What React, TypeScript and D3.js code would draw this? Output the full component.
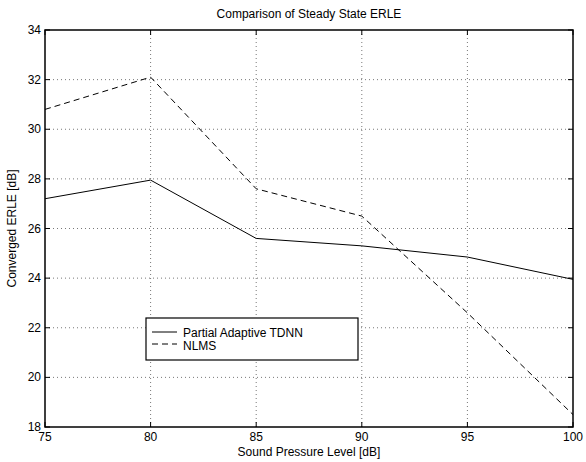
import React from 'react';
import * as d3 from 'd3';

const levels = [75, 80, 85, 90, 95, 100];
const tdnn = [27.2, 27.95, 25.6, 25.3, 24.85, 23.95];
const nlms = [30.8, 32.1, 27.6, 26.5, 22.6, 18.5];
const xTicks = [75, 80, 85, 90, 95, 100];
const yTicks = [18, 20, 22, 24, 26, 28, 30, 32, 34];
const seriesNames = ['Partial Adaptive TDNN', 'NLMS'];

const W = 586;
const H = 462;
const m = { left: 45, right: 13, top: 30, bottom: 35 };
const font = 'Liberation Sans, Arial, Helvetica, sans-serif';

const App = () => {
  const x = d3.scaleLinear().domain([75, 100]).range([m.left, W - m.right]);
  const y = d3.scaleLinear().domain([18, 34]).range([H - m.bottom, m.top]);

  const line = d3
    .line<number>()
    .x((_, i) => x(levels[i]))
    .y((d) => y(d));

  const x0 = x.range()[0];
  const x1 = x.range()[1];
  const y0 = y.range()[0];
  const y1 = y.range()[1];

  return (
    <svg width={W} height={H} style={{ position: 'absolute', left: 0, top: 0, background: '#fff' }} fontFamily={font}>
      <rect x={0} y={0} width={W} height={H} fill="#fff" />
      {/* grid */}
      {xTicks.slice(1, -1).map((t) => (
        <line key={'gx' + t} x1={x(t)} x2={x(t)} y1={y0} y2={y1} stroke="#555" strokeDasharray="1,3" strokeWidth={0.8} />
      ))}
      {yTicks.slice(1, -1).map((t) => (
        <line key={'gy' + t} x1={x0} x2={x1} y1={y(t)} y2={y(t)} stroke="#555" strokeDasharray="1,3" strokeWidth={0.8} />
      ))}
      {/* series */}
      <path d={line(tdnn) || ''} fill="none" stroke="#000" strokeWidth={1} />
      <path d={line(nlms) || ''} fill="none" stroke="#000" strokeWidth={1} strokeDasharray="6,4" />
      {/* frame */}
      <rect x={x0} y={y1} width={x1 - x0} height={y0 - y1} fill="none" stroke="#000" strokeWidth={1.5} />
      {xTicks.map((t) => (
        <g key={'tx' + t}>
          <line x1={x(t)} x2={x(t)} y1={y0} y2={y0 - 5} stroke="#000" />
          <line x1={x(t)} x2={x(t)} y1={y1} y2={y1 + 5} stroke="#000" />
          <text x={x(t)} y={y0 + 14} textAnchor="middle" fontSize={12}>
            {t}
          </text>
        </g>
      ))}
      {yTicks.map((t) => (
        <g key={'ty' + t}>
          <line x1={x0} x2={x0 + 5} y1={y(t)} y2={y(t)} stroke="#000" />
          <line x1={x1} x2={x1 - 5} y1={y(t)} y2={y(t)} stroke="#000" />
          <text x={x0 - 4} y={y(t) + 4} textAnchor="end" fontSize={12}>
            {t}
          </text>
        </g>
      ))}
      <text x={(x0 + x1) / 2} y={18} textAnchor="middle" fontSize={12}>
        Comparison of Steady State ERLE
      </text>
      <text x={(x0 + x1) / 2} y={456} textAnchor="middle" fontSize={12}>
        Sound Pressure Level [dB]
      </text>
      <text transform={`translate(16, ${(y0 + y1) / 2}) rotate(-90)`} textAnchor="middle" fontSize={12}>
        Converged ERLE [dB]
      </text>
      {/* legend */}
      <g>
        <rect x={146} y={318} width={212} height={42} fill="#fff" stroke="#000" strokeWidth={1.2} />
        {seriesNames.map((name, i) => (
          <g key={name}>
            <line x1={152} x2={177} y1={332 + i * 12} y2={332 + i * 12} stroke="#000" strokeDasharray={i === 1 ? '6,4' : undefined} />
            <text x={183} y={337 + i * 13} fontSize={12}>
              {name}
            </text>
          </g>
        ))}
      </g>
    </svg>
  );
};

export default App;
